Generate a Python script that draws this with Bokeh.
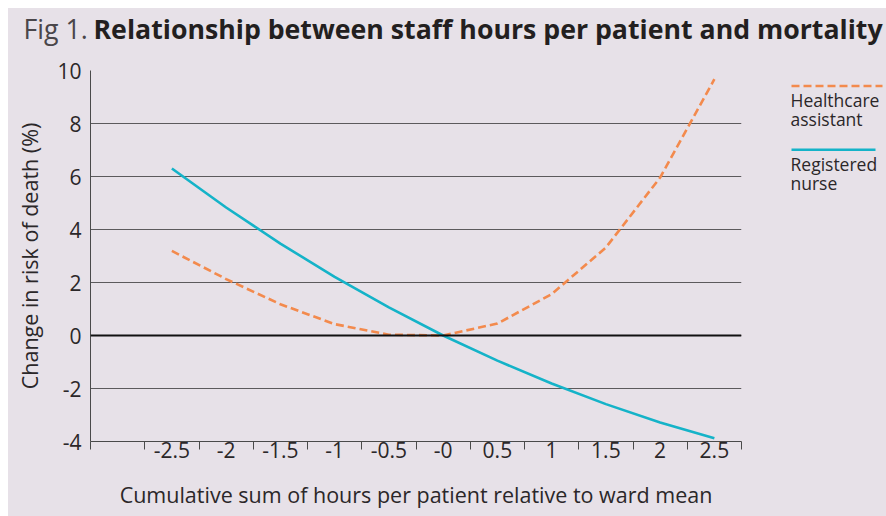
from bokeh.plotting import figure
from bokeh.models import Range1d, FixedTicker, Label, Span
from bokeh.layouts import column, row
from bokeh.embed import file_html
from bokeh.resources import INLINE

# ---------------- data ----------------
x_labels = ["-2.5", "-2", "-1.5", "-1", "-0.5", "-0", "0.5", "1", "1.5", "2", "2.5"]
nurse = [6.30, 4.83, 3.47, 2.21, 1.06, 0.0, -0.95, -1.81, -2.59, -3.28, -3.88]
hca = [3.19, 2.13, 1.18, 0.43, 0.03, 0.0, 0.45, 1.56, 3.32, 5.96, 9.67]
y_ticks = [-4, -2, 0, 2, 4, 6, 8, 10]
y_tick_labels = ["-4", "-2", "0", "2", "4", "6", "8", "10"]

series_names = ["Healthcare assistant", "Registered nurse"]
legend_lines = [["Healthcare", "assistant"], ["Registered", "nurse"]]
title_prefix = "Fig 1."
title_main = "Relationship between staff hours per patient and mortality"
x_title = "Cumulative sum of hours per patient relative to ward mean"
y_title = "Change in risk of death (%)"

# ---------------- style ----------------
BG = "#e7e1e8"
TXT = "#2b2729"
AXC = "#4a4a4a"
TEAL = "#15b3c8"
ORANGE = "#f38a4d"
FONT = "Open Sans"
M = 8                       # white page strip at left / top
PW, PH = 886, 516           # page size
TOP_H = 48                  # title band bottom (page y)
ROW_SPLIT = 768             # main plot / legend split (page x)
B_TOP, B_BOT = 22, 75       # main plot top / bottom borders
BASE_SHIFT = 0.35           # label anchor correction (em) for alphabetic baseline


def blank_fig(w, h, xr, yr, top=0, bottom=0):
    f = figure(width=w, height=h, x_range=Range1d(*xr), y_range=Range1d(*yr), title=None,
               output_backend="svg", toolbar_location=None,
               min_border_left=0, min_border_right=0, min_border_top=top, min_border_bottom=bottom,
               x_axis_location=None, y_axis_location=None,
               background_fill_color=BG, border_fill_color=BG)
    f.outline_line_color = None
    f.grid.visible = False
    return f


def text_label(x, baseline, text, size, color, style="normal"):
    return Label(x=x, y=baseline - BASE_SHIFT * size, text=text, text_font=FONT,
                 text_font_size=f"{size}px", text_color=color, text_font_style=style,
                 text_baseline="alphabetic")


# ---------------- title band (data units = page pixels) ----------------
t = blank_fig(PW - M, TOP_H - M, (M, PW), (TOP_H, M))
t.add_layout(text_label(23, 37, title_prefix, 26.7, "#4a464a"))
t.add_layout(text_label(93, 37, title_main, 26.7, "#231f20", "bold"))

# ---------------- main plot ----------------
positions = list(range(1, len(x_labels) + 1))   # slot 0 is left empty
x0, x1 = -0.5, len(x_labels) + 0.5

p = figure(width=ROW_SPLIT - M, height=PH - TOP_H, title=None,
           x_range=Range1d(x0, x1), y_range=Range1d(min(y_ticks), max(y_ticks)),
           output_backend="svg", toolbar_location=None,
           min_border_left=82, min_border_right=27, min_border_top=B_TOP, min_border_bottom=B_BOT,
           background_fill_color=BG, border_fill_color=BG)
p.outline_line_color = None
p.xgrid.grid_line_color = None

p.yaxis.ticker = FixedTicker(ticks=y_ticks)
p.yaxis.major_label_overrides = {v: s for v, s in zip(y_ticks, y_tick_labels)}
p.yaxis.major_tick_out = 0
p.yaxis.major_tick_in = 0
p.yaxis.minor_tick_line_color = None
p.yaxis.axis_line_color = AXC
p.yaxis.major_label_text_font = FONT
p.yaxis.major_label_text_font_size = "21px"
p.yaxis.major_label_text_color = TXT
p.yaxis.major_label_standoff = 9
p.yaxis.axis_label = y_title
p.yaxis.axis_label_text_font = FONT
p.yaxis.axis_label_text_font_size = "21.5px"
p.yaxis.axis_label_text_font_style = "normal"
p.yaxis.axis_label_text_color = TXT
p.yaxis.axis_label_standoff = 10

p.ygrid.ticker = FixedTicker(ticks=y_ticks)
p.ygrid.grid_line_color = "#5c5a5c"
p.ygrid.grid_line_width = 1.2

bounds = [x0 + i for i in range(len(x_labels) + 2)]
p.xaxis.ticker = FixedTicker(ticks=positions, minor_ticks=bounds)
p.xaxis.major_label_overrides = {pos: lab for pos, lab in zip(positions, x_labels)}
p.xaxis.major_tick_out = 0
p.xaxis.major_tick_in = 0
p.xaxis.major_tick_line_color = None
p.xaxis.minor_tick_out = 8
p.xaxis.minor_tick_in = 0
p.xaxis.minor_tick_line_color = AXC
p.xaxis.axis_line_color = AXC
p.xaxis.major_label_text_font = FONT
p.xaxis.major_label_text_font_size = "21px"
p.xaxis.major_label_text_color = TXT
p.xaxis.major_label_standoff = -8
p.xaxis.axis_label = x_title
p.xaxis.axis_label_text_font = FONT
p.xaxis.axis_label_text_font_size = "21.5px"
p.xaxis.axis_label_text_font_style = "normal"
p.xaxis.axis_label_text_color = TXT
p.xaxis.axis_label_standoff = 19

p.add_layout(Span(location=0, dimension="width", line_color="#111111", line_width=2))

p.line(positions, hca, line_color=ORANGE, line_width=2.6, line_dash="8 4")
p.line(positions, nurse, line_color=TEAL, line_width=2.6)

# ---------------- legend panel (data units = page pixels; frame matches main frame) ----------------
lg = blank_fig(PW - ROW_SPLIT, PH - TOP_H, (ROW_SPLIT, PW), (PH - B_BOT, TOP_H + B_TOP),
               top=B_TOP, bottom=B_BOT)

legend_spec = [
    (ORANGE, "8 4", 85.5, 882, 106),
    (TEAL, "solid", 149.3, 875, 170),
]
for (col, dash, ly, lx2, base), lines in zip(legend_spec, legend_lines):
    lg.line([791, lx2], [ly, ly], line_color=col, line_width=2.6, line_dash=dash)
    for k, txt in enumerate(lines):
        lg.add_layout(text_label(790, base + 18.5 * k, txt, 17.5, TXT))

layout = column(t, row(p, lg, styles={"background-color": BG}),
                margin=(M, 0, 0, M), styles={"background-color": BG})
open("out.html", "w").write(file_html(layout, INLINE))
